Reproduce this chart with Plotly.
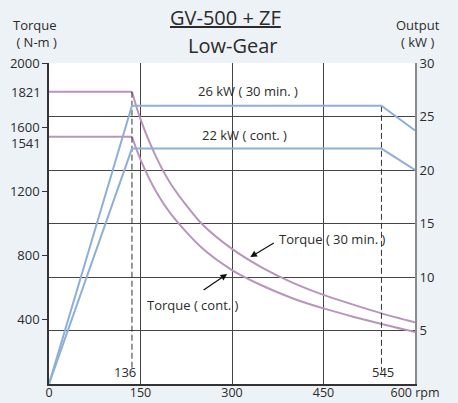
import plotly.graph_objects as go

# ---- data ----
rpm_flat = [0, 136]
torque_30min_flat = [1821, 1821]
torque_cont_flat = [1541, 1541]

rpm_curve = [136, 150, 175, 200, 250, 300, 350, 400, 450, 500, 545, 600]
torque_30min_curve = [1821, 1650, 1420, 1245, 1000, 842, 724, 630, 555, 493, 440, 384]
torque_cont_curve = [1541, 1398, 1203, 1058, 850, 710, 612, 533, 471, 418, 374, 324]

rpm_power = [0, 136, 545, 600]
power_30min = [0, 26, 26, 23.7]
power_cont = [0, 22, 22, 20]

marker_rpm = [136, 545]
marker_top = [1821, 1733]
marker_bottom = [80, 80]

left_ticks = [400, 800, 1200, 1600, 2000]
left_extra_ticks = [1821, 1541]
right_ticks = [5, 10, 15, 20, 25, 30]
x_ticks = [0, 150, 300, 450, 600]
x_ticktext = ["0", "150", "300", "450", "600 rpm"]

PURPLE = "#b995bb"
BLUE = "#8eb0d6"
TXT = "#2b2b2b"
FONT = "Open Sans"
BG = "#edf2f7"
FS = 13

fig = go.Figure()

for xs, ys, shape in [(rpm_flat, torque_30min_flat, "linear"),
                      (rpm_curve, torque_30min_curve, "spline"),
                      (rpm_flat, torque_cont_flat, "linear"),
                      (rpm_curve, torque_cont_curve, "spline")]:
    fig.add_trace(go.Scatter(x=xs, y=ys, mode="lines",
                             line=dict(color=PURPLE, width=2, shape=shape, smoothing=0.8),
                             showlegend=False, hoverinfo="skip"))

for ys in [power_30min, power_cont]:
    fig.add_trace(go.Scatter(x=rpm_power, y=ys, mode="lines", yaxis="y2",
                             line=dict(color=BLUE, width=2),
                             showlegend=False, hoverinfo="skip"))

for xr, yt, yb in zip(marker_rpm, marker_top, marker_bottom):
    fig.add_trace(go.Scatter(x=[xr, xr], y=[yt, yb], mode="lines",
                             line=dict(color="#333333", width=1, dash="6px,3px"),
                             showlegend=False, hoverinfo="skip"))

annotations = []
# marker labels
annotations.append(dict(x=136, y=0, xref="x", yref="y", text="136", showarrow=False,
                        xanchor="right", yanchor="bottom", xshift=6, yshift=1,
                        font=dict(family=FONT, size=FS, color=TXT)))
annotations.append(dict(x=545, y=0, xref="x", yref="y", text="545", showarrow=False,
                        xanchor="center", yanchor="bottom", xshift=2, yshift=1,
                        font=dict(family=FONT, size=FS, color=TXT)))
# extra left labels
for v, ys in zip(left_extra_ticks, [0, -6]):
    annotations.append(dict(x=0, y=v, xref="paper", yref="y", text=str(v), showarrow=False,
                            xanchor="right", yanchor="middle", xshift=-6, yshift=ys,
                            font=dict(family=FONT, size=FS, color=TXT)))
# power labels
annotations.append(dict(x=326, y=27.4, xref="x", yref="y2", text="26 kW ( 30 min. )",
                        showarrow=False, font=dict(family=FONT, size=FS, color=TXT)))
annotations.append(dict(x=320, y=23.3, xref="x", yref="y2", text="22 kW ( cont. )",
                        showarrow=False, font=dict(family=FONT, size=FS, color=TXT)))
# torque labels
annotations.append(dict(x=374, y=902, xref="x", yref="y", text="Torque ( 30 min. )",
                        showarrow=False, xanchor="left",
                        font=dict(family=FONT, size=FS, color=TXT)))
annotations.append(dict(x=330, y=791, xref="x", yref="y", text="", showarrow=True,
                        ax=25, ay=-15, arrowhead=2, arrowsize=1.1, arrowwidth=1.2,
                        arrowcolor="#111111", standoff=0))
annotations.append(dict(x=236, y=492, xref="x", yref="y", text="Torque ( cont. )",
                        showarrow=False,
                        font=dict(family=FONT, size=FS, color=TXT)))
annotations.append(dict(x=292, y=685, xref="x", yref="y", text="", showarrow=True,
                        ax=-25, ay=17, arrowhead=2, arrowsize=1.1, arrowwidth=1.2,
                        arrowcolor="#111111", standoff=0))
# titles
annotations.append(dict(x=0.5, y=1, xref="paper", yref="paper", text="<u>GV-500 + ZF</u>",
                        showarrow=False, yanchor="bottom", xshift=-7, yshift=30,
                        font=dict(family=FONT, size=20, color=TXT)))
annotations.append(dict(x=0.5, y=1, xref="paper", yref="paper", text="Low-Gear",
                        showarrow=False, yanchor="bottom", xshift=0, yshift=2,
                        font=dict(family=FONT, size=20, color=TXT)))
annotations.append(dict(x=0, y=1, xref="paper", yref="paper", text="Torque<br> ( N-m )",
                        showarrow=False, xanchor="left", yanchor="bottom", align="left",
                        xshift=-38, yshift=10,
                        font=dict(family=FONT, size=FS, color=TXT)))
annotations.append(dict(x=1, y=1, xref="paper", yref="paper", text="Output<br>( kW )",
                        showarrow=False, xanchor="center", yanchor="bottom", align="center",
                        xshift=3, yshift=10,
                        font=dict(family=FONT, size=FS, color=TXT)))

fig.update_layout(
    width=458, height=403,
    margin=dict(l=49, r=43, t=63, b=19, pad=0),
    paper_bgcolor=BG, plot_bgcolor="white",
    font=dict(family=FONT, size=FS, color=TXT),
    xaxis=dict(range=[0, 600], tickvals=x_ticks, ticktext=x_ticktext,
               showgrid=True, gridcolor="#444444", gridwidth=1,
               showline=True, linecolor="#333333", linewidth=1.5,
               ticks="", zeroline=False, automargin=False,
               ticklabelstandoff=-4, tickfont=dict(size=12.5)),
    yaxis=dict(range=[0, 2000], tickvals=left_ticks, showgrid=False,
               showline=True, linecolor="#333333", linewidth=1.5,
               ticks="outside", ticklen=5, tickcolor="#333333", tickwidth=1,
               zeroline=False, automargin=False),
    yaxis2=dict(range=[0, 30], tickvals=right_ticks, overlaying="y", side="right",
                showgrid=True, gridcolor="#444444", gridwidth=1,
                showline=True, linecolor="#8a8a8a", linewidth=2,
                ticks="", zeroline=False, automargin=False),
    annotations=annotations,
)

fig.write_html("out.html", config={"displayModeBar": False},
               post_script="document.body.style.margin='0';document.body.style.overflow='hidden';")
